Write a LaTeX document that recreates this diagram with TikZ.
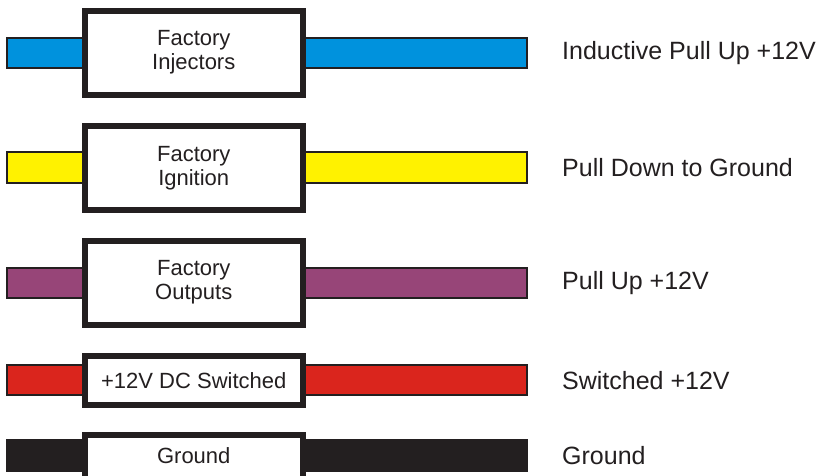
\documentclass[tikz,border=0pt]{standalone}
\usepackage{fontspec}
\setmainfont{Liberation Sans}
\definecolor{ink}{RGB}{35,31,32}
\definecolor{wblue}{RGB}{0,146,221}
\definecolor{wyellow}{RGB}{255,242,0}
\definecolor{wpurple}{RGB}{151,69,120}
\definecolor{wred}{RGB}{218,37,29}
\begin{document}
\begin{tikzpicture}[x=1pt,y=-1pt,
  wire/.style={draw=ink, line width=2pt, inner sep=0pt, outer sep=0pt,
    minimum width=520pt, minimum height=30.3pt, rectangle},
  box/.style={draw=ink, fill=white, line width=6pt, inner sep=0pt, outer sep=0pt,
    minimum width=217.5pt, rectangle, text=ink, align=center,
    font=\fontsize{22}{24}\selectfont},
  tall/.style={box, minimum height=84pt},
  short/.style={box, minimum height=49.6pt},
  lbl/.style={anchor=base west, inner sep=0pt, text=ink, font=\fontsize{25}{28}\selectfont}]
\useasboundingbox (0,0) rectangle (830,475);
\clip (0,0) rectangle (830,475);
% wires
\node[wire, fill=wblue]   (w1) at (267,52.8) {};
\node[wire, fill=wyellow] (w2) at (267,167.5) {};
\node[wire, fill=wpurple] (w3) at (267,283) {};
\node[wire, fill=wred]    (w4) at (267,380) {};
\node[wire, fill=ink, minimum height=31pt] (w5) at (267,455.5) {};
% boxes
\node[tall]  (b1) at (193.75,52.6) {Factory\\Injectors};
\node[tall]  (b2) at (193.75,167.8) {Factory\\Ignition};
\node[tall]  (b3) at (193.75,282.5) {Factory\\Outputs};
\node[short] (b4) at (193.75,380.5) {+12V DC Switched};
\node[short, minimum height=49.6pt] (b5) at (193.75,460.1) {};
\node[inner sep=0pt, anchor=base, text=ink, font=\fontsize{22}{24}\selectfont] (b5t) at (193.75,463.3) {Ground};
% labels
\node[lbl] (l1) at (562,59) {Inductive Pull Up +12V};
\node[lbl] (l2) at (562,176.7) {Pull Down to Ground};
\node[lbl] (l3) at (562,289.3) {Pull Up +12V};
\node[lbl] (l4) at (562,389.3) {Switched +12V};
\node[lbl] (l5) at (562,464.3) {Ground};
\end{tikzpicture}
\end{document}
